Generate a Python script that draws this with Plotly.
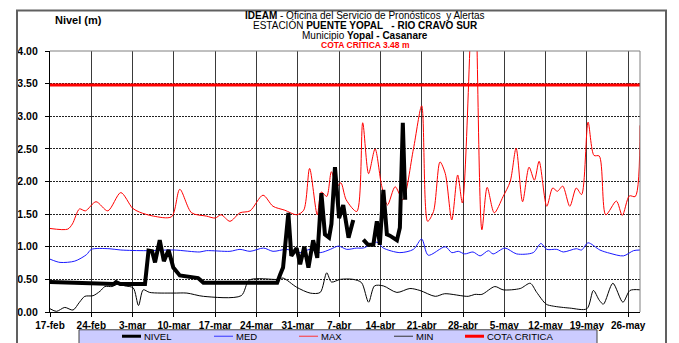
import plotly.graph_objects as go
import pandas as pd

# ---------------- data ----------------
START_DATE = "2019-02-17"
X_END_DAY = 100
TICK_LABELS = ["17-feb", "24-feb", "3-mar", "10-mar", "17-mar", "24-mar", "31-mar",
               "7-abr", "14-abr", "21-abr", "28-abr", "5-may", "12-may", "19-may", "26-may"]
Y_TICKS = [0.0, 0.5, 1.0, 1.5, 2.0, 2.5, 3.0, 3.5, 4.0]
COTA_CRITICA = 3.48

NIVEL_DAYS = [0, 3.3, 4.0, 6.8, 10.8, 11.2, 11.9, 16.1, 16.7, 17.3, 17.8, 18.6, 19.3, 20.1,
              20.9, 22.0, 24.3, 25.1, 26.0, 38.5, 39.0, 39.5, 40.4, 40.9, 41.8, 42.4, 43.1,
              43.8, 44.6, 45.3, 46.0, 46.6, 47.3, 47.7, 48.3, 49.0, 49.7, 50.6, 51.4, 52.2,
              53.1, 53.9, 54.8, 55.4, 55.9, 56.5, 57.1, 57.6, 58.8, 59.3, 59.8, 60.2]
NIVEL = [0.46, 0.45, 0.44, 0.43, 0.43, 0.46, 0.43, 0.43, 0.94, 0.93, 0.76, 1.10, 0.78, 0.95,
         0.68, 0.56, 0.53, 0.52, 0.45, 0.45, 0.57, 0.68, 1.52, 0.86, 0.98, 0.73, 1.00,
         0.68, 1.10, 0.83, 1.82, 1.19, 1.14, 1.35, 2.22, 1.44, 1.64, 1.14, 1.41, None,
         1.11, 1.03, 1.03, 1.39, 1.03, 1.87, 1.19, 1.17, 1.10, 1.29, 2.90, 1.72]

MED_DAYS = [0, 1.7, 4.2, 6.2, 7.0, 10.0, 12.0, 16.3, 21.0, 25.4, 26.5, 30.5, 32.2, 33.9,
            36.2, 37.8, 40.1, 42.4, 44.1, 45.8, 47.5, 48.9, 50.3, 52.0, 53.1, 55.4, 56.5,
            59.3, 61.6, 63.0, 64.1, 67.0, 68.1, 69.2, 70.3, 71.7, 72.9, 74.3, 75.1, 77.1,
            79.1, 81.9, 83.2, 84.2, 85.9, 87.0, 89.2, 90.1, 91.2, 93.2, 94.9, 97.2, 98.9, 100]
MED = [0.81, 0.76, 0.78, 0.88, 0.96, 0.97, 0.95, 0.94, 0.95, 0.92, 0.94, 0.93, 0.96, 0.93,
       0.98, 0.93, 0.96, 0.91, 0.96, 0.91, 0.96, 1.01, 0.96, 0.98, 0.98, 1.07, 0.98,
       0.91, 0.96, 1.12, 0.87, 1.00, 0.91, 0.93, 0.89, 0.92, 0.86, 0.94, 0.89, 0.98,
       0.89, 0.91, 1.05, 0.96, 0.96, 0.92, 0.97, 0.95, 1.06, 0.95, 0.90, 0.86, 0.94, 0.95]

MAX_DAYS = [0, 3.0, 3.8, 5.0, 6.0, 7.8, 9.8, 12.0, 14.0, 15.2, 17.5, 20.6, 22.0, 24.0, 26.5,
            28.0, 29.0, 30.5, 32.2, 33.9, 36.1, 37.8, 39.8, 41.8, 43.0, 44.0, 45.3, 46.0,
            46.9, 47.7, 48.6, 49.3, 50.2, 52.0, 53.0, 54.0, 55.1, 56.2, 57.2, 58.5, 59.8,
            61.6, 63.0, 64.0, 65.0, 66.1, 67.0, 68.1, 69.1, 69.9, 71.9, 73.2, 74.1, 75.3,
            76.8, 78.0, 79.0, 80.1, 81.2, 82.1, 82.9, 84.2, 85.2, 86.0, 86.9, 88.1, 89.2,
            90.1, 91.2, 92.2, 93.1, 94.2, 96.0, 97.0, 98.2, 99.2, 100]
MAX = [1.28, 1.27, 1.35, 1.58, 1.55, 1.69, 1.55, 1.83, 1.59, 1.53, 1.47, 1.46, 1.88, 1.52, 1.47,
       1.44, 1.49, 1.39, 1.52, 1.55, 1.79, 1.62, 1.56, 1.49, 1.56, 2.20, 1.49, 1.84,
       1.77, 2.15, 1.92, 1.98, 1.72, 1.54, 2.90, 2.12, 2.50, 1.94, 1.64, 1.92, 1.72,
       2.50, 3.16, 1.39, 1.54, 2.30, 2.12, 1.41, 2.10, 1.67, 5.40, 1.26, 1.91, 1.52,
       1.77, 2.00, 2.51, 1.69, 2.22, 2.02, 2.31, 1.62, 1.90, 1.85, 1.93, 1.62, 1.90,
       1.80, 2.91, 2.40, 2.39, 1.49, 1.70, 1.48, 1.78, 1.77, 2.86]

MIN_DAYS = [0, 1.1, 2.5, 3.9, 5.0, 5.9, 7.3, 8.5, 9.3, 10.5, 11.6, 12.7, 14.1, 15.0, 15.8,
            16.9, 20.9, 23.2, 26.0, 32.4, 33.8, 38.6, 39.5, 41.8, 44.1, 45.8, 46.9, 47.7,
            49.2, 51.4, 52.8, 54.0, 55.0, 56.5, 58.8, 61.0, 62.7, 65.3, 66.9, 70.9, 72.0,
            73.2, 75.4, 76.8, 79.7, 81.4, 82.5, 84.1, 85.3, 88.1, 91.0, 92.1, 93.1, 93.8,
            95.4, 97.1, 98.3, 100]
MIN = [0.05, 0.01, 0.07, 0.03, 0.15, 0.24, 0.25, 0.32, 0.39, 0.39, 0.43, 0.40, 0.37, 0.10, 0.34,
       0.30, 0.29, 0.29, 0.24, 0.25, 0.49, 0.50, 0.52, 0.38, 0.29, 0.30, 0.60, 0.46,
       0.50, 0.50, 0.45, 0.15, 0.40, 0.40, 0.30, 0.36, 0.33, 0.24, 0.28, 0.24, 0.27,
       0.27, 0.39, 0.34, 0.36, 0.44, 0.30, 0.12, 0.09, 0.06, 0.05, 0.33, 0.18, 0.12,
       0.44, 0.15, 0.33, 0.34]

# ---------------- helpers ----------------
start = pd.Timestamp(START_DATE)


def to_dates(days):
    return [start + pd.Timedelta(days=d) for d in days]


tick_vals = to_dates([7 * i for i in range(len(TICK_LABELS))])
x_range = to_dates([0, X_END_DAY])

W, H = 679, 343
PL, PR, PT, PB = 50, 640, 51, 315


def pxx(xp):
    return (xp - PL) / (PR - PL)


def pxy(yp):
    return (PB - yp) / (PB - PT)


FONT = "Liberation Sans, Arial, sans-serif"

fig = go.Figure()
fig.add_trace(go.Scatter(x=to_dates(MIN_DAYS), y=MIN, name="MIN", mode="lines",
                         line=dict(color="#000000", width=1, shape="spline", smoothing=0.8)))
fig.add_trace(go.Scatter(x=to_dates(MED_DAYS), y=MED, name="MED", mode="lines",
                         line=dict(color="#1a1aff", width=1, shape="spline", smoothing=0.8)))
fig.add_trace(go.Scatter(x=to_dates(MAX_DAYS), y=MAX, name="MAX", mode="lines",
                         line=dict(color="#ff0000", width=1, shape="spline", smoothing=0.8)))
fig.add_trace(go.Scatter(x=x_range, y=[COTA_CRITICA, COTA_CRITICA], name="COTA CRITICA",
                         mode="lines", line=dict(color="#ff0000", width=3)))
fig.add_trace(go.Scatter(x=to_dates(NIVEL_DAYS), y=NIVEL, name="NIVEL", mode="lines",
                         connectgaps=False,
                         line=dict(color="#000000", width=4)))

fig.update_layout(
    width=W, height=H, autosize=False,
    margin=dict(l=PL, r=W - PR, t=PT, b=H - PB, pad=0),
    paper_bgcolor="white", plot_bgcolor="white",
    showlegend=False,
    font=dict(family=FONT, color="black"),
)
fig.update_xaxes(
    type="date", range=x_range, tickvals=tick_vals, ticktext=TICK_LABELS,
    showgrid=True, gridcolor="#3a3a3a", gridwidth=1.3,
    showline=True, linecolor="black", linewidth=1.3,
    ticks="outside", ticklen=4, tickcolor="black",
    tickfont=dict(family=FONT, size=10, color="black", weight="bold"),
    zeroline=False,
)
fig.update_yaxes(
    range=[0, 4], tickvals=Y_TICKS, tickformat=".2f",
    showgrid=True, gridcolor="#222222", gridwidth=1, griddash="2px,1px",
    showline=True, linecolor="black", linewidth=1.3,
    ticks="outside", ticklen=4, tickcolor="black", ticklabelstandoff=5,
    tickfont=dict(family=FONT, size=10.5, color="black", weight="bold"),
    zeroline=False,
)

shapes = []
# plot border (top / right)
shapes.append(dict(type="line", xref="paper", yref="paper", x0=0, x1=1, y0=1, y1=1,
                   line=dict(color="#808080", width=1)))
shapes.append(dict(type="line", xref="paper", yref="paper", x0=1, x1=1, y0=0, y1=1,
                   line=dict(color="#808080", width=1)))
# outer frame
shapes.append(dict(type="rect", xref="paper", yref="paper",
                   x0=pxx(17), x1=pxx(666), y0=pxy(360), y1=pxy(10),
                   line=dict(color="#606060", width=2), fillcolor="rgba(0,0,0,0)"))
# legend box
shapes.append(dict(type="rect", xref="paper", yref="paper",
                   x0=pxx(79), x1=pxx(597), y0=pxy(360), y1=pxy(333),
                   line=dict(color="#404040", width=1), fillcolor="#ccccff"))

legend_items = [
    ("NIVEL", "#000000", 3, 122),
    ("MED", "#3333ff", 1, 214),
    ("MAX", "#ff3333", 1, 299),
    ("MIN", "#333333", 1, 394),
    ("COTA CRITICA", "#ff0000", 3, 465),
]
annotations = []
LEG_Y = 339.5
for name, color, wid, x0 in legend_items:
    shapes.append(dict(type="line", xref="paper", yref="paper",
                       x0=pxx(x0), x1=pxx(x0 + 19), y0=pxy(LEG_Y), y1=pxy(LEG_Y),
                       line=dict(color=color, width=wid)))
    annotations.append(dict(xref="paper", yref="paper", x=pxx(x0 + 20), y=pxy(LEG_Y),
                            xanchor="left", yanchor="middle", showarrow=False,
                            text=name, font=dict(family=FONT, size=9.5, color="black")))

TX = pxx(365)
title_lines = [
    ("<b>IDEAM</b> - Oficina del Servicio de Pronósticos\u00a0 y Alertas", 14.6, 10, "black"),
    ("ESTACIÓN <b>PUENTE YOPAL\u00a0\u00a0 - RIO CRAVO SUR</b>", 25.2, 10, "black"),
    ("Municipio <b>Yopal - Casanare</b>", 35.3, 10, "black"),
    (f"<b>COTA CRÍTICA {COTA_CRITICA:.2f} m</b>", 45.0, 8.5, "#ff0000"),
]
for text, yp, size, color in title_lines:
    annotations.append(dict(xref="paper", yref="paper", x=TX, y=pxy(yp),
                            xanchor="center", yanchor="middle", showarrow=False,
                            text=text, font=dict(family=FONT, size=size, color=color)))
annotations.append(dict(xref="paper", yref="paper", x=pxx(78), y=pxy(20),
                        xanchor="center", yanchor="middle", showarrow=False,
                        text="<b>Nivel (m)</b>", font=dict(family=FONT, size=11, color="black")))

fig.update_layout(shapes=shapes, annotations=annotations)

fig.write_html("out.html", config={"displayModeBar": False},
               post_script="document.body.style.margin='0';")
